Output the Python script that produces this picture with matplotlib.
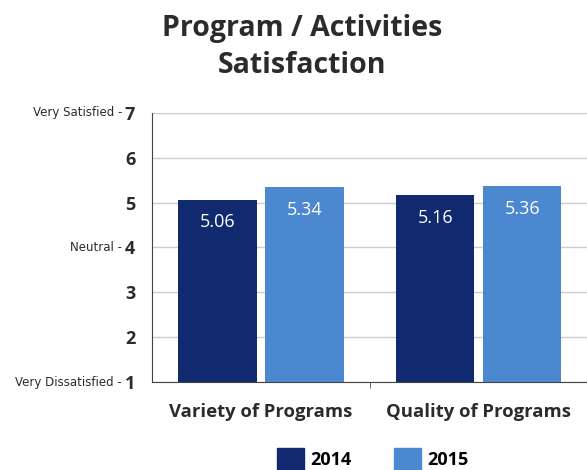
import numpy as np
import matplotlib
matplotlib.use("Agg")
import matplotlib.pyplot as plt
from matplotlib.patches import Patch

categories = ["Variety of Programs", "Quality of Programs"]
years = ["2014", "2015"]
scores_2014 = [5.06, 5.16]
scores_2015 = [5.34, 5.36]
y_ticks = [1, 2, 3, 4, 5, 6, 7]
y_prefixes = {7: "Very Satisfied -", 4: "Neutral -", 1: "Very Dissatisfied -"}

dark = "#10296f"
light = "#4b88d0"
text_col = "#2b2b2b"

plt.rcParams["font.family"] = ["Open Sans", "DejaVu Sans"]

fig = plt.figure(figsize=(5.87, 4.70), dpi=100)
ax = fig.add_axes([0.259, 0.187, 0.742, 0.573])

x = np.arange(len(categories))
w = 0.36
base = 1
b1 = ax.bar(x - 0.2, np.array(scores_2014) - base, w, bottom=base, color=dark, zorder=3)
b2 = ax.bar(x + 0.2, np.array(scores_2015) - base, w, bottom=base, color=light, zorder=3)

# value labels inside the bars, near the top
for bars, vals in [(b1, scores_2014), (b2, scores_2015)]:
    for rect, v in zip(bars, vals):
        ax.annotate(f"{v:.2f}", (rect.get_x() + rect.get_width() / 2, v),
                    xytext=(0, -16), textcoords="offset points",
                    ha="center", va="center", color="white", fontsize=13)

ax.set_xlim(-0.5, 1.5)
ax.set_ylim(1, 7)
ax.set_yticks(y_ticks)
ax.set_yticklabels([str(t) for t in y_ticks], fontweight="bold", fontsize=13, color=text_col)
ax.set_xticks(x)
ax.set_xticklabels(categories, fontweight="bold", fontsize=13.3, color=text_col)
ax.set_xticks([0.5], minor=True)
ax.tick_params(axis="x", which="major", length=0, pad=15)
ax.tick_params(axis="x", which="minor", length=4, color="#555555")
ax.tick_params(axis="y", length=0, pad=12)

# scale descriptions in front of the bold numbers
for t, txt in y_prefixes.items():
    ax.annotate(txt, (0, t), xycoords=("axes fraction", "data"),
                xytext=(-21.5, 0), textcoords="offset points",
                ha="right", va="center", fontsize=8.5, color=text_col,
                family=["DejaVu Sans"])

ax.grid(axis="y", color="#cccccc", linewidth=1, zorder=0)
for s in ["top", "right"]:
    ax.spines[s].set_visible(False)
ax.spines["left"].set_color("#444444")
ax.spines["bottom"].set_color("#444444")

fig.suptitle("Program / Activities\nSatisfaction", x=0.515, y=0.970,
             fontsize=20.5, fontweight="bold", color=text_col, linespacing=1.35)

handles = [Patch(color=dark), Patch(color=light)]
fig.legend(handles, years, loc="center", bbox_to_anchor=(0.635, 0.024), ncol=2,
           frameon=False, handlelength=1.5, handleheight=1.5, handletextpad=0.3,
           columnspacing=2.4, prop={"weight": "bold", "size": 13})

fig.savefig("out.png", dpi=100)
